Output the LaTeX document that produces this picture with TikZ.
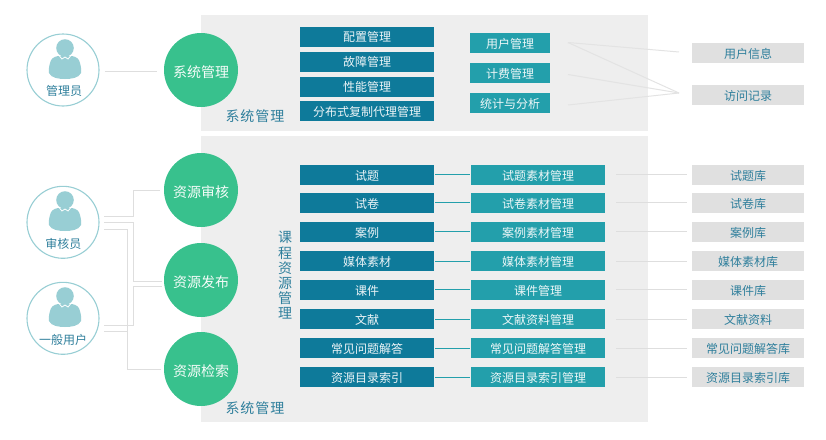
\documentclass[tikz,border=0pt]{standalone}
\usepackage{fontspec}
\setmainfont{Noto Sans CJK SC}
\definecolor{panelgrey}{HTML}{EEEEEE}
\definecolor{darkteal}{HTML}{0E7A9A}
\definecolor{midteal}{HTML}{239FAB}
\definecolor{lightbox}{HTML}{E0E0E0}
\definecolor{greenc}{HTML}{38C18D}
\definecolor{textteal}{HTML}{2F7F9C}
\definecolor{ringc}{HTML}{98CED4}
\definecolor{linegrey}{HTML}{DEDEDE}
\definecolor{fangrey}{HTML}{E3E3E3}
\newcommand{\fs}[1]{\fontsize{#1}{#1}\selectfont}
\tikzset{
  x=1pt,y=-1pt,
  panel/.style={fill=panelgrey,draw=none},
  basebox/.style={draw=none,inner sep=0pt,minimum height=20pt,text height=12pt,text depth=0.1pt,font=\fs{12},align=center},
  darkbox/.style={basebox,fill=darkteal,text=white!92!darkteal,minimum width=134pt},
  upperbox/.style={darkbox,text height=10.5pt,text depth=1pt},
  midbox/.style={basebox,fill=midteal,text=white!92!midteal,minimum width=134pt},
  midsmall/.style={basebox,fill=midteal,text=white!92!midteal,minimum width=80pt},
  storebox/.style={basebox,fill=lightbox,text=textteal,minimum width=112pt},
  greenround/.style={circle,fill=greenc,draw=none,minimum size=74pt,inner sep=0pt,text=white!95!greenc,font=\fs{14},text height=14pt,text depth=0pt},
  ring/.style={circle,fill=white,draw=ringc,line width=1.1pt,minimum size=72pt,inner sep=0pt},
  plabel/.style={text=textteal,font=\fs{12},inner sep=0pt},
  title/.style={text=textteal,font=\fs{14}\addfontfeature{LetterSpace=7},inner sep=0pt},
  vtitle/.style={text=textteal,font=\fontsize{14}{15.2}\selectfont,align=center,inner sep=0pt},
  greyline/.style={draw=linegrey,line width=1pt},
  fanline/.style={draw=fangrey,line width=1pt},
  tealline/.style={draw=midteal,line width=1pt,shorten <=1pt,shorten >=1pt},
  storeline/.style={greyline,shorten <=11pt,shorten >=5pt},
  pics/person/.style={code={
    \fill[ringc] (0,0) circle (8.8);
    \fill[ringc] (-7,8) .. controls (-12,9) and (-14,11) .. (-15,15)
      .. controls (-16,19) and (-16.5,22) .. (-16,25)
      .. controls (-14,30) and (-6,31) .. (0,31)
      .. controls (6,31) and (14,30) .. (16,25)
      .. controls (16.5,22) and (16,19) .. (15,15)
      .. controls (14,11) and (12,9) .. (7,8) -- cycle;
    \draw[white,line width=0.8pt] (-6,7.5) -- (-3,11) -- (0,9) -- (3,11) -- (6,7.5);
  }}
}
\begin{document}
\begin{tikzpicture}
\useasboundingbox (0,0) rectangle (826,439);
% panels
\fill[panel] (201,15) rectangle (648,131);
\fill[panel] (201,136) rectangle (648,422);

% actors
\node[ring] (admin) at (63,70) {};
\node[ring] (reviewer) at (63,222.3) {};
\node[ring] (user) at (63,318.3) {};
\pic at (65,48) {person};
\pic at (65,200) {person};
\pic at (65,296) {person};
\node[plabel] (ladmin) at (64,90.7) {管理员};
\node[plabel] (lreviewer) at (63.3,243.7) {审核员};
\node[plabel] (luser) at (63,340) {一般用户};

% green circles
\node[greenround] (sys) at (201,70) {系统管理};
\node[greenround] (audit) at (201,190) {资源审核};
\node[greenround] (pub) at (201,280) {资源发布};
\node[greenround] (search) at (201,369) {资源检索};

% titles
\node[title] (t1) at (255,116.5) {系统管理};
\node[title] (t2) at (255,408) {系统管理};
\node[vtitle] (t3) at (285,275.5) {课\\程\\资\\源\\管\\理};

% top boxes
\node[upperbox] (a1) at (367,37) {配置管理};
\node[upperbox] (a2) at (367,62) {故障管理};
\node[upperbox] (a3) at (367,87) {性能管理};
\node[darkbox] (a4) at (367,111) {分布式复制代理管理};
\node[midsmall] (m1) at (510,43) {用户管理};
\node[midsmall] (m2) at (510,73) {计费管理};
\node[midsmall] (m3) at (510,103) {统计与分析};
\node[storebox] (s1) at (748,53) {用户信息};
\node[storebox] (s2) at (748,95) {访问记录};

% bottom rows
\node[darkbox] (b1) at (367,175) {试题};
\node[darkbox] (b2) at (367,203) {试卷};
\node[darkbox] (b3) at (367,232) {案例};
\node[darkbox] (b4) at (367,261) {媒体素材};
\node[darkbox] (b5) at (367,290) {课件};
\node[darkbox] (b6) at (367,319) {文献};
\node[darkbox] (b7) at (367,348) {常见问题解答};
\node[darkbox] (b8) at (367,377) {资源目录索引};
\node[midbox] (c1) at (538,175) {试题素材管理};
\node[midbox] (c2) at (538,203) {试卷素材管理};
\node[midbox] (c3) at (538,232) {案例素材管理};
\node[midbox] (c4) at (538,261) {媒体素材管理};
\node[midbox] (c5) at (538,290) {课件管理};
\node[midbox] (c6) at (538,319) {文献资料管理};
\node[midbox] (c7) at (538,348) {常见问题解答管理};
\node[midbox] (c8) at (538,377) {资源目录索引管理};
\node[storebox] (d1) at (748,175) {试题库};
\node[storebox] (d2) at (748,203) {试卷库};
\node[storebox] (d3) at (748,232) {案例库};
\node[storebox] (d4) at (748,261) {媒体素材库};
\node[storebox] (d5) at (748,290) {课件库};
\node[storebox] (d6) at (748,319) {文献资料};
\node[storebox] (d7) at (748,348) {常见问题解答库};
\node[storebox] (d8) at (748,377) {资源目录索引库};

% row connectors
\foreach \i/\dy in {1/-0.5,2/-0.5,3/-0.5,4/0.5,5/-0.5,6/0.5,7/0.5,8/0.5}{
  \draw[tealline] ([yshift=\dy*-1pt]b\i.east) -- ([yshift=\dy*-1pt]c\i.west);
  \draw[storeline] ([yshift=\dy*-1pt]c\i.east) -- ([yshift=\dy*-1pt]d\i.west);
}

% admin link
\draw[greyline,shorten <=5pt,shorten >=7pt] (admin.east|-0,71.5) -- (sys.west|-0,71.5);

% role links
\coordinate (r1) at (104,216.5);
\coordinate (r2) at (104,222.5);
\coordinate (r3) at (104,229.5);
\coordinate (u1) at (104,325.5);
\coordinate (u2) at (104,331.5);
\coordinate (e1) at (160,190.5);
\coordinate (e2) at (162,281.5);
\coordinate (e3) at (161,369.5);
\coordinate (e4) at (162,286.5);
\draw[greyline] (r1) -| (133.5,190.5) -- (e1);
\draw[greyline] (r2) -| (133.5,281.5) -- (e2);
\draw[greyline] (r3) -| (127.5,369.5) -- (e3);
\draw[greyline] (u1) -| (133.5,286.5) -- (e4);
\draw[greyline] (u2) -- (127.5,331.5);

% top-right links
\coordinate (f1) at (568,42.5);
\coordinate (f2) at (568,74.5);
\coordinate (f3) at (568,105);
\coordinate (g1) at (679,52);
\coordinate (g2) at (679,93);
\draw[fanline] (f1) -- (g1);
\draw[fanline] (f1) -- (g2);
\draw[fanline] (f2) -- (g2);
\draw[fanline] (f3) -- (g2);
\end{tikzpicture}
\end{document}
